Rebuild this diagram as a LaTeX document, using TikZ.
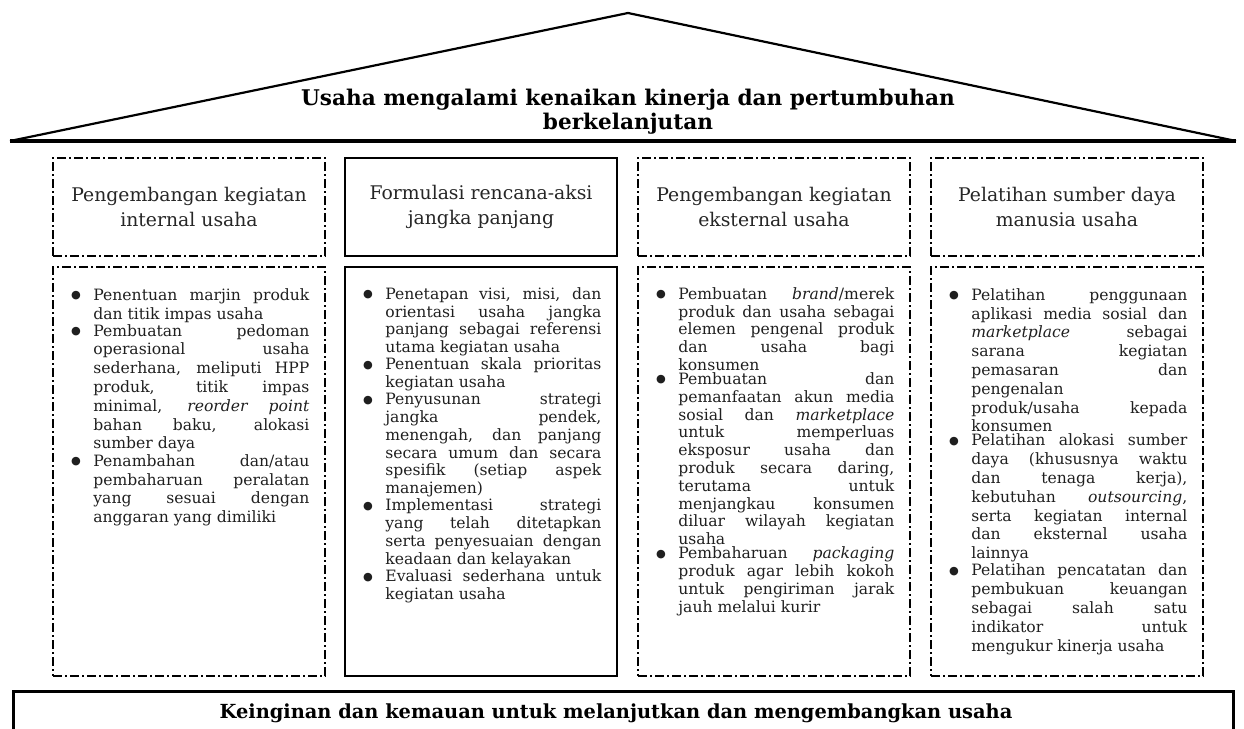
\documentclass[tikz,border=0pt]{standalone}
\usepackage{fontspec}
\setmainfont{DejaVu Serif}
\newfontfamily\symf{DejaVu Sans}
\newcommand\jl[1]{\hbox to 108pt{\spaceskip=0pt\xspaceskip=0pt #1}}
\newcommand\el[1]{\hbox{\spaceskip=0pt\xspaceskip=0pt #1}}
\newcommand\bitem[1]{\par\noindent\llap{\raisebox{0.8pt}{\symf\fontsize{5.6pt}{5.6pt}\selectfont ●}\hskip 6.3pt}\vtop{#1}\par}
\hbadness=10000
\hfuzz=5pt
\begin{document}
\begin{tikzpicture}[x=0.5pt,y=-0.5pt,
  dd/.style={draw, line width=0.7pt, dash pattern=on 4.5pt off 1.6pt on 0.8pt off 1.6pt},
  solidbox/.style={draw, line width=1.4pt},
  hdr/.style={minimum width=136pt, minimum height=49pt, inner sep=0pt, align=center,
    font=\fontsize{9.4pt}{12.5pt}\selectfont, text=black!85},
  bodybox/.style={minimum width=136pt, minimum height=204.5pt, inner sep=0pt},
  bodytext/.style={anchor=north west, inner sep=0pt, text width=108pt, align=justify, text=black!88,
    execute at begin node=\setlength\parindent{0pt}\setlength\parskip{0pt}},
  bfa/.style={font=\fontsize{7.8pt}{9.4pt}\selectfont},
  bfb/.style={font=\fontsize{7.8pt}{8.9pt}\selectfont},
  titlefont/.style={font=\bfseries\fontsize{10.8pt}{12pt}\selectfont, align=center, inner sep=0pt},
]
\useasboundingbox (0,0) rectangle (1244,729);
% roof
\coordinate (L) at (10,141);
\coordinate (A) at (628,13);
\coordinate (R) at (1236,141);
\draw[line width=1.1pt, line join=miter] (L) -- (A) -- (R);
\draw[line width=1.6pt] (L) -- (R);
\node[titlefont] (title) at (628,112) {Usaha mengalami kenaikan kinerja dan pertumbuhan\\berkelanjutan};
% headers
\node[hdr, dd] (h1) at (189,207) {Pengembangan kegiatan\\internal usaha};
\node[hdr, solidbox] (h2) at (481,207) {Formulasi rencana-aksi\\jangka panjang};
\node[hdr, dd] (h3) at (774,207) {Pengembangan kegiatan\\eksternal usaha};
\node[hdr, dd] (h4) at (1067,207) {Pelatihan sumber daya\\manusia usaha};
% body boxes
\node[bodybox, dd] (b1) at (189,471.5) {};
\node[bodybox, solidbox] (b2) at (481,471.5) {};
\node[bodybox, dd] (b3) at (774,471.5) {};
\node[bodybox, dd] (b4) at (1067,471.5) {};
% body texts
\node[bodytext, bfa] (t1) at (93,281) {%
\bitem{\jl{Penentuan marjin produk}\el{dan titik impas usaha}}
\bitem{\jl{Pembuatan pedoman}\jl{operasional usaha}\jl{sederhana, meliputi HPP}\jl{produk, titik impas}\jl{minimal, \textit{reorder point}}\jl{bahan baku, alokasi}\el{sumber daya}}
\bitem{\jl{Penambahan dan/atau}\jl{pembaharuan peralatan}\jl{yang sesuai dengan}\el{anggaran yang dimiliki}}};
\node[bodytext, bfb] (t2) at (385,281) {%
\bitem{\jl{Penetapan visi, misi, dan}\jl{orientasi usaha jangka}\jl{panjang sebagai referensi}\el{utama kegiatan usaha}}
\bitem{\jl{Penentuan skala prioritas}\el{kegiatan usaha}}
\bitem{\jl{Penyusunan strategi}\jl{jangka pendek,}\jl{menengah, dan panjang}\jl{secara umum dan secara}\jl{spesifik (setiap aspek}\el{manajemen)}}
\bitem{\jl{Implementasi strategi}\jl{yang telah ditetapkan}\jl{serta penyesuaian dengan}\el{keadaan dan kelayakan}}
\bitem{\jl{Evaluasi sederhana untuk}\el{kegiatan usaha}}};
\node[bodytext, bfb] (t3) at (678,281) {%
\bitem{\jl{Pembuatan \textit{brand}/merek}\jl{produk dan usaha sebagai}\jl{elemen pengenal produk}\jl{dan usaha bagi}\el{konsumen}}
\bitem{\jl{Pembuatan dan}\jl{pemanfaatan akun media}\jl{sosial dan \textit{marketplace}}\jl{untuk memperluas}\jl{eksposur usaha dan}\jl{produk secara daring,}\jl{terutama untuk}\jl{menjangkau konsumen}\jl{diluar wilayah kegiatan}\el{usaha}}
\bitem{\jl{Pembaharuan \textit{packaging}}\jl{produk agar lebih kokoh}\jl{untuk pengiriman jarak}\el{jauh melalui kurir}}};
\node[bodytext, bfa] (t4) at (971,281) {%
\bitem{\jl{Pelatihan penggunaan}\jl{aplikasi media sosial dan}\jl{\textit{marketplace} sebagai}\jl{sarana kegiatan}\jl{pemasaran dan}\el{pengenalan}\jl{produk/usaha kepada}\el{konsumen}}
\bitem{\jl{Pelatihan alokasi sumber}\jl{daya (khususnya waktu}\jl{dan tenaga kerja),}\jl{kebutuhan \textit{outsourcing},}\jl{serta kegiatan internal}\jl{dan eksternal usaha}\el{lainnya}}
\bitem{\jl{Pelatihan pencatatan dan}\jl{pembukuan keuangan}\jl{sebagai salah satu}\jl{indikator untuk}\el{mengukur kinerja usaha}}};
% base
\node[draw, line width=1.4pt, minimum width=610pt, minimum height=30pt, inner sep=0pt, anchor=north west] (base) at (12,690) {};
\node[titlefont, font=\bfseries\fontsize{9.7pt}{12pt}\selectfont] (basetext) at (616,713) {Keinginan dan kemauan untuk melanjutkan dan mengembangkan usaha};
\end{tikzpicture}
\end{document}
